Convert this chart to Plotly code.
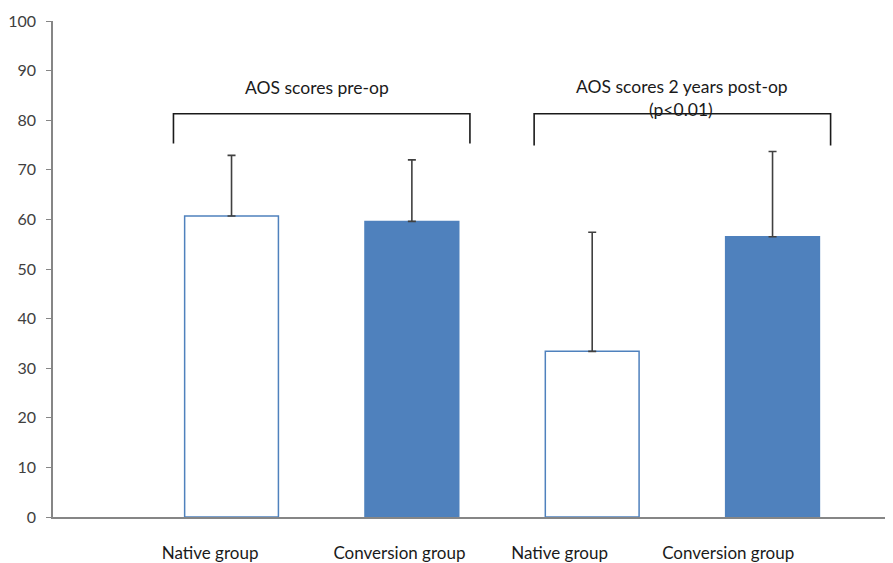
import plotly.graph_objects as go

categories = ["Native group", "Conversion group", "Native group", "Conversion group"]
means = [60.7, 59.6, 33.4, 56.5]
sds = [12.2, 12.4, 24.0, 17.2]
fills = ["white", "#4F81BD", "white", "#4F81BD"]
group_titles = ["AOS scores pre-op", "AOS scores 2 years post-op"]
p_label = "(p<0.01)"
y_ticks = list(range(0, 101, 10))

positions = [1, 2, 3, 4]
label_positions = [0.881, 1.931, 2.819, 3.754]
font = "Lato, 'Open Sans', sans-serif"

fig = go.Figure()
fig.add_trace(go.Bar(
    x=positions, y=means, width=0.52,
    marker=dict(color=fills, line=dict(color="#4F81BD", width=1.5)),
    error_y=dict(type="data", symmetric=False, array=sds, arrayminus=[0] * len(sds),
                 color="#404040", thickness=1.6, width=4),
    showlegend=False,
))

# brackets
for gc, top, bottom in [(1.5, 81.3, 75.3), (3.5, 81.3, 74.9)]:
    fig.add_shape(type="path",
                  path=f"M {gc-0.822},{bottom} L {gc-0.822},{top} L {gc+0.822},{top} L {gc+0.822},{bottom}",
                  line=dict(color="#1a1a1a", width=1.6), xref="x", yref="y")

fig.add_annotation(x=1.474, y=86.6, text=group_titles[0], showarrow=False,
                   font=dict(family=font, size=17.5, color="#1a1a1a"))
fig.add_annotation(x=3.5, y=86.7, text=group_titles[1], showarrow=False,
                   font=dict(family=font, size=17.5, color="#1a1a1a"))
fig.add_annotation(x=3.49, y=82.1, text=p_label, showarrow=False,
                   font=dict(family=font, size=17.5, color="#1a1a1a"))

# page body has an 8px margin, so the figure is sized to fit the window
fig.update_layout(
    width=885, height=555,
    margin=dict(l=45, r=0, t=13, b=46),
    paper_bgcolor="white", plot_bgcolor="white",
    font=dict(family=font, size=15, color="#404040"),
    xaxis=dict(range=[0.010, 4.668], tickvals=label_positions, ticktext=categories,
               showline=True, linecolor="#868686", linewidth=1.5, ticks="",
               showgrid=False, zeroline=False, ticklabelstandoff=20, automargin=False,
               tickfont=dict(family=font, size=17, color="#1a1a1a")),
    yaxis=dict(range=[0, 100], tickvals=y_ticks, showline=True, linecolor="#868686",
               linewidth=1.5, ticks="outside", ticklen=5, tickcolor="#868686",
               showgrid=False, zeroline=False, ticklabelstandoff=7, automargin=False,
               tickfont=dict(family=font, size=16, color="#404040")),
)

fig.write_html("out.html")
